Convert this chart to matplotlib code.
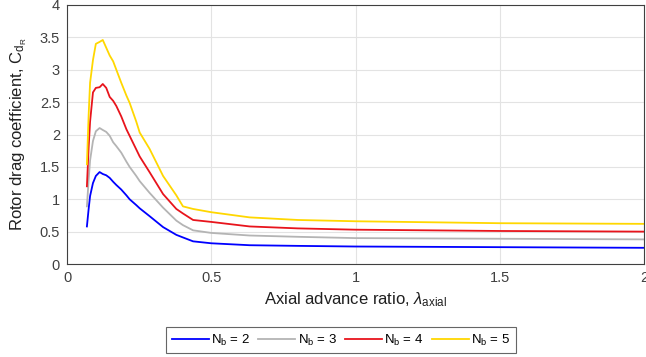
import matplotlib
matplotlib.use("Agg")
import matplotlib.pyplot as plt

plt.rcParams['font.family'] = ['Liberation Sans', 'DejaVu Sans']
plt.rcParams['mathtext.fontset'] = 'custom'
plt.rcParams['mathtext.rm'] = 'Liberation Sans'
plt.rcParams['mathtext.it'] = 'Liberation Sans:italic'

lam = [0.069, 0.075, 0.08, 0.09, 0.1, 0.113, 0.124, 0.136, 0.148, 0.16, 0.171, 0.188,
       0.206, 0.217, 0.24, 0.252, 0.286, 0.333, 0.379, 0.402, 0.437, 0.5, 0.633, 0.8,
       1.0, 1.25, 1.5, 1.75, 2.0]
cd_nb2 = [0.58, 0.85, 1.05, 1.25, 1.36, 1.42, 1.39, 1.37, 1.33, 1.27, 1.22, 1.15, 1.06, 1.0,
          0.91, 0.86, 0.74, 0.57, 0.45, 0.41, 0.35, 0.32, 0.29, 0.28, 0.27, 0.265, 0.26, 0.255, 0.25]
cd_nb3 = [0.89, 1.3, 1.6, 1.9, 2.05, 2.10, 2.07, 2.04, 1.98, 1.88, 1.82, 1.72, 1.58, 1.5,
          1.36, 1.28, 1.10, 0.87, 0.67, 0.60, 0.52, 0.48, 0.44, 0.42, 0.40, 0.395, 0.39, 0.385, 0.38]
cd_nb4 = [1.2, 1.8, 2.2, 2.65, 2.72, 2.73, 2.78, 2.72, 2.58, 2.52, 2.44, 2.28, 2.08, 1.98,
          1.77, 1.66, 1.42, 1.08, 0.85, 0.78, 0.68, 0.65, 0.58, 0.55, 0.53, 0.52, 0.51, 0.505, 0.50]
cd_nb5 = [1.54, 2.3, 2.8, 3.15, 3.4, 3.43, 3.46, 3.34, 3.22, 3.13, 3.0, 2.80, 2.6, 2.49,
          2.2, 2.03, 1.78, 1.36, 1.06, 0.89, 0.85, 0.80, 0.72, 0.68, 0.66, 0.645, 0.63, 0.625, 0.62]
labels = [r"N$_\mathrm{b}$ = 2", r"N$_\mathrm{b}$ = 3", r"N$_\mathrm{b}$ = 4", r"N$_\mathrm{b}$ = 5"]
colors = ['#0000ff', '#b4b4b4', '#e8141c', '#ffd700']
xticks = [0, 0.5, 1, 1.5, 2]
xticklabels = ['0', '0.5', '1', '1.5', '2']
yticks = [0, 0.5, 1, 1.5, 2, 2.5, 3, 3.5, 4]
yticklabels = ['0', '0.5', '1', '1.5', '2', '2.5', '3', '3.5', '4']

fig = plt.figure(figsize=(6.46, 3.57), dpi=100)
ax = fig.add_axes([67/646, 1-264/357, 577/646, 259/357])
for y, lab, c in zip([cd_nb2, cd_nb3, cd_nb4, cd_nb5], labels, colors):
    ax.plot(lam, y, color=c, lw=1.3, label=lab)

ax.set_xlim(0, 2)
ax.set_ylim(0, 4)
ax.set_xticks(xticks)
ax.set_xticklabels(xticklabels)
ax.set_yticks(yticks)
ax.set_yticklabels(yticklabels)
ax.grid(True, color='#e3e3e3', lw=0.8)
ax.set_axisbelow(True)
ax.tick_params(direction='in', length=0, labelsize=10.5, colors='#404040', pad=5)
for s in ax.spines.values():
    s.set_color('#404040')
    s.set_linewidth(0.8)
ax.set_xlabel(r"Axial advance ratio, $\mathit{\lambda}_{\mathrm{axial}}$", fontsize=12, color='#202020', labelpad=4)
ax.set_ylabel(r"Rotor drag coefficient, C$_{\mathrm{d}_\mathrm{R}}$", fontsize=12, color='#202020', labelpad=8)

leg = fig.legend(loc='center', bbox_to_anchor=(341/646, 1-340/357), ncol=4, fontsize=9.5,
                 frameon=True, fancybox=False, edgecolor='#404040', handlelength=2.8,
                 columnspacing=0.6, handletextpad=0.2, borderpad=0.4, borderaxespad=0)
leg.get_frame().set_linewidth(0.8)

fig.savefig("out.png", dpi=100)
